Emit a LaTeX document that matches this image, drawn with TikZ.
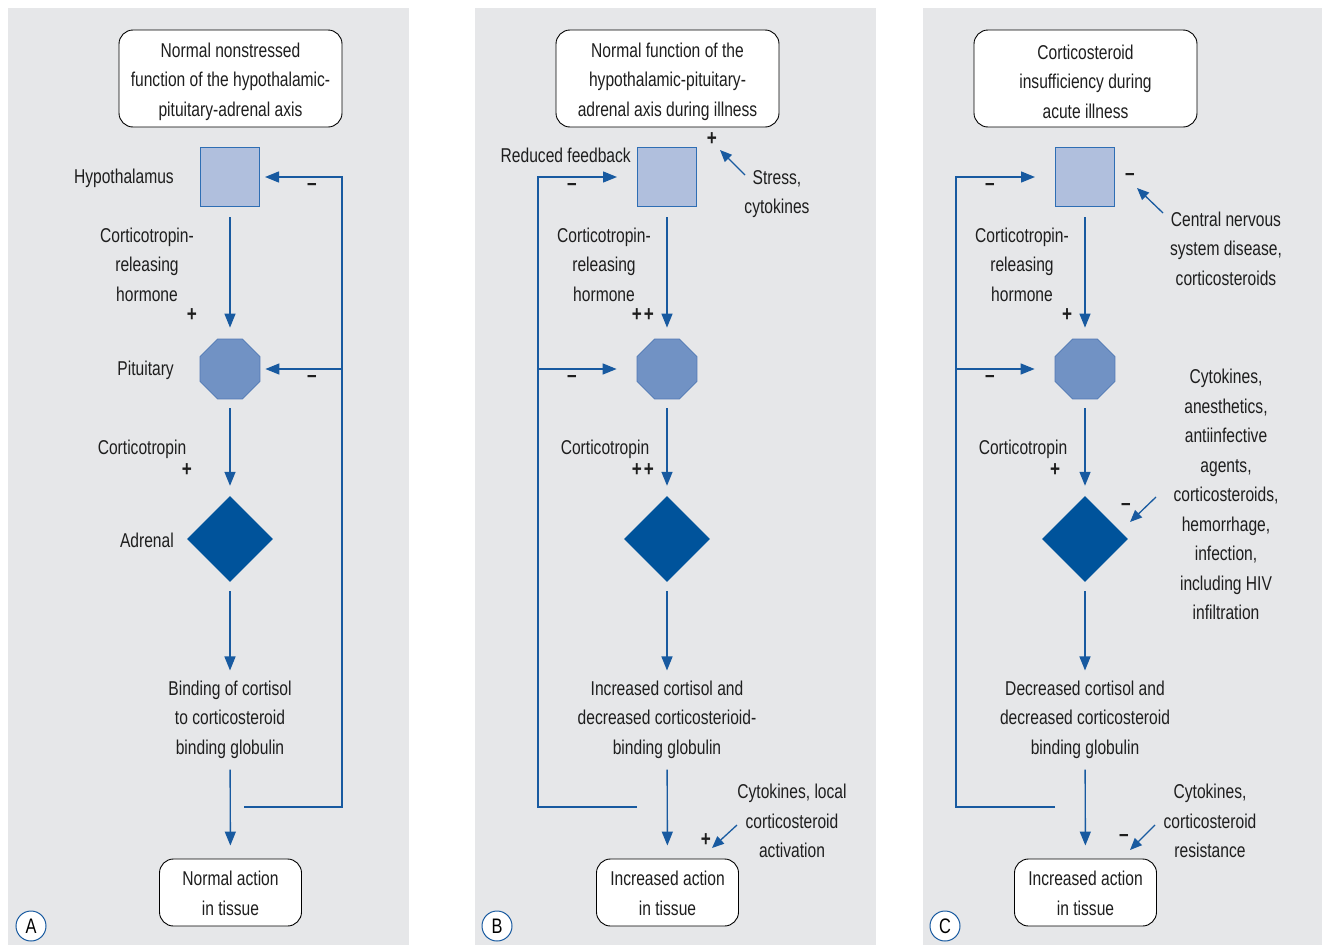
\documentclass[tikz,border=0pt]{standalone}
\usepackage{fontspec}
\setmainfont{Liberation Sans}[FakeStretch=0.78]
\usetikzlibrary{arrows.meta,shapes.geometric}
\definecolor{bgc}{RGB}{230,231,233}
\definecolor{lb}{RGB}{24,90,160}
\definecolor{sqfill}{RGB}{176,191,221}
\definecolor{sqdraw}{RGB}{46,110,180}
\definecolor{octfill}{RGB}{113,146,196}
\definecolor{octdraw}{RGB}{80,120,180}
\definecolor{dia}{RGB}{0,83,155}
\definecolor{tcol}{RGB}{30,30,30}
\newcommand{\myup}{\rule{0pt}{20.5pt}}
\newcommand{\myupb}{\rule{0pt}{16pt}}
\begin{document}
\begin{tikzpicture}[x=1pt,y=-1pt,
  tbase/.style={text=tcol, font=\fontsize{20}{29.5}\selectfont, align=center},
  lbl/.style={tbase, inner sep=0pt, yshift=-1.5pt},
  sign/.style={text=tcol, font=\fontsize{22}{22}\selectfont\bfseries, inner sep=0pt},
  titlebox/.style={tbase, draw=black, line width=0.9pt, fill=white, rounded corners=14pt, minimum width=223, minimum height=97, inner sep=2pt},
  endbox/.style={tbase, draw=black, line width=0.9pt, fill=white, rounded corners=14pt, minimum width=142, minimum height=67, inner sep=2pt},
  sqbox/.style={draw=sqdraw, line width=1pt, fill=sqfill, minimum size=59, inner sep=0pt},
  octbox/.style={regular polygon, regular polygon sides=8, draw=octdraw, line width=0.8pt, fill=octfill, minimum size=64.9, inner sep=0pt},
  diabox/.style={diamond, aspect=1, fill=dia, minimum width=86, minimum height=86, inner sep=0pt},
  arr/.style={draw=lb, line width=1.4pt, -{Triangle[length=14pt,width=11pt]}},
  sarr/.style={draw=lb, line width=1.3pt, -{Triangle[length=12pt,width=10pt]}},
  letter/.style={circle, draw=lb, line width=1pt, fill=white, minimum size=30, inner sep=0pt, text=black, font=\fontsize{21}{21}\selectfont}
]
\useasboundingbox (0,0) rectangle (1322,945);
\fill[bgc] (8,8) rectangle (409,945);
\fill[bgc] (475,8) rectangle (876,945);
\fill[bgc] (923,8) rectangle (1322,945);

% ---------------- Panel A
\node[titlebox] (tA) at (230.5,78.5) {\myup Normal nonstressed\\function of the hypothalamic-\\pituitary-adrenal axis};
\node[sqbox] (hA) at (230,177) {};
\node[lbl, anchor=east] (hAl) at (174,177) {Hypothalamus};
\node[octbox] (pA) at (230,369) {};
\node[lbl, anchor=east] (pAl) at (174,369) {Pituitary};
\node[diabox] (aA) at (230,539) {};
\node[lbl, anchor=east] (aAl) at (174,539) {Adrenal};
\node[lbl] (bA) at (230,718) {Binding of cortisol\\to corticosteroid\\binding globulin};
\node[endbox] (eA) at (230.5,892.5) {\myupb Normal action\\in tissue};
\node[lbl] (crhA) at (147,263) {Corticotropin-\\releasing\\hormone};
\node[sign] (s1A) at (192,315) {+};
\node[lbl] (ctA) at (142,448) {Corticotropin};
\node[sign] (s2A) at (187,470) {+};
\draw[arr, shorten <=10pt, shorten >=11pt] (hA) -- (pA);
\draw[arr, shorten <=9pt, shorten >=10pt] (pA) -- (aA);
\draw[arr, shorten <=9pt, shorten >=10pt] (aA) -- (bA);
\draw[arr, shorten <=11pt, shorten >=13pt] (bA) -- (eA);
\coordinate (fA0) at (244,807);
\coordinate (fA1) at (342,177);
\coordinate (fA2) at (342,369);
\draw[arr, shorten >=5pt] (fA0) -| (fA1) -- (hA.east);
\draw[arr, shorten >=5pt] (fA2) -- (pA.east);
\node[sign] (m1A) at (312,187) {–};
\node[sign] (m2A) at (312,379) {–};
\node[letter] (LA) at (31,926) {A};

% ---------------- Panel B
\node[titlebox] (tB) at (667.5,78.5) {\myup Normal function of the\\hypothalamic-pituitary-\\adrenal axis during illness};
\node[sqbox] (hB) at (667,177) {};
\node[lbl, anchor=east] (rfB) at (631,154) {Reduced feedback};
\node[sign] (spB) at (712,139) {+};
\coordinate (stB) at (745,175);
\coordinate (stB2) at (720,150);
\draw[sarr] (stB) -- (stB2);
\node[lbl] (stressB) at (777,192.5) {Stress,\\cytokines};
\node[octbox] (pB) at (667,369) {};
\node[diabox] (aB) at (667,539) {};
\node[lbl] (bB) at (667,718) {Increased cortisol and\\decreased corticosterioid-\\binding globulin};
\node[endbox] (eB) at (667.5,892.5) {\myupb Increased action\\in tissue};
\node[lbl] (crhB) at (604,263) {Corticotropin-\\releasing\\hormone};
\node[sign] (s1B) at (643,315) {+\kern2pt+};
\node[lbl] (ctB) at (605,448) {Corticotropin};
\node[sign] (s2B) at (643,470) {+\kern2pt+};
\draw[arr, shorten <=10pt, shorten >=11pt] (hB) -- (pB);
\draw[arr, shorten <=9pt, shorten >=10pt] (pB) -- (aB);
\draw[arr, shorten <=9pt, shorten >=10pt] (aB) -- (bB);
\draw[arr, shorten <=11pt, shorten >=13pt] (bB) -- (eB);
\node[sign] (s3B) at (706,840) {+};
\coordinate (ckB) at (737,825);
\coordinate (ckB2) at (712,848);
\draw[sarr] (ckB) -- (ckB2);
\node[lbl] (ckBl) at (792,819.5) {Cytokines, local\\corticosteroid\\activation};
\coordinate (fB0) at (637,807);
\coordinate (fB1) at (538,177);
\coordinate (fB2) at (538,369);
\draw[arr, shorten >=20pt] (fB0) -| (fB1) -- (hB.west);
\draw[arr, shorten >=20pt] (fB2) -- (pB.west);
\node[sign] (m1B) at (572,187) {–};
\node[sign] (m2B) at (572,379) {–};
\node[letter] (LB) at (497,926) {B};

% ---------------- Panel C
\node[titlebox] (tC) at (1085.5,78.5) {\myup Corticosteroid\\insufficiency during\\acute illness};
\node[sqbox] (hC) at (1085,177) {};
\node[sign] (smC) at (1130,177) {–};
\coordinate (cnC) at (1163,213);
\coordinate (cnC2) at (1137,188);
\draw[sarr] (cnC) -- (cnC2);
\node[lbl] (cnCl) at (1226,247) {Central nervous\\system disease,\\corticosteroids};
\node[octbox] (pC) at (1085,369) {};
\node[diabox] (aC) at (1085,539) {};
\node[sign] (smC2) at (1126,507) {–};
\coordinate (cyC) at (1156,497);
\coordinate (cyC2) at (1130,522);
\draw[sarr] (cyC) -- (cyC2);
\node[lbl] (cyCl) at (1226,493) {Cytokines,\\anesthetics,\\antiinfective\\agents,\\corticosteroids,\\hemorrhage,\\infection,\\including HIV\\infiltration};
\node[lbl] (bC) at (1085,718) {Decreased cortisol and\\decreased corticosteroid\\binding globulin};
\node[endbox] (eC) at (1085.5,892.5) {\myupb Increased action\\in tissue};
\node[lbl] (crhC) at (1022,263) {Corticotropin-\\releasing\\hormone};
\node[sign] (s1C) at (1067,315) {+};
\node[lbl] (ctC) at (1023,448) {Corticotropin};
\node[sign] (s2C) at (1055,470) {+};
\draw[arr, shorten <=10pt, shorten >=11pt] (hC) -- (pC);
\draw[arr, shorten <=9pt, shorten >=10pt] (pC) -- (aC);
\draw[arr, shorten <=9pt, shorten >=10pt] (aC) -- (bC);
\draw[arr, shorten <=11pt, shorten >=13pt] (bC) -- (eC);
\node[sign] (s3C) at (1124,838) {–};
\coordinate (rsC) at (1155,825);
\coordinate (rsC2) at (1130,850);
\draw[sarr] (rsC) -- (rsC2);
\node[lbl] (rsCl) at (1210,819.5) {Cytokines,\\corticosteroid\\resistance};
\coordinate (fC0) at (1055,807);
\coordinate (fC1) at (956,177);
\coordinate (fC2) at (956,369);
\draw[arr, shorten >=20pt] (fC0) -| (fC1) -- (hC.west);
\draw[arr, shorten >=20pt] (fC2) -- (pC.west);
\node[sign] (m1C) at (990,187) {–};
\node[sign] (m2C) at (990,379) {–};
\node[letter] (LC) at (945,926) {C};
\end{tikzpicture}
\end{document}
